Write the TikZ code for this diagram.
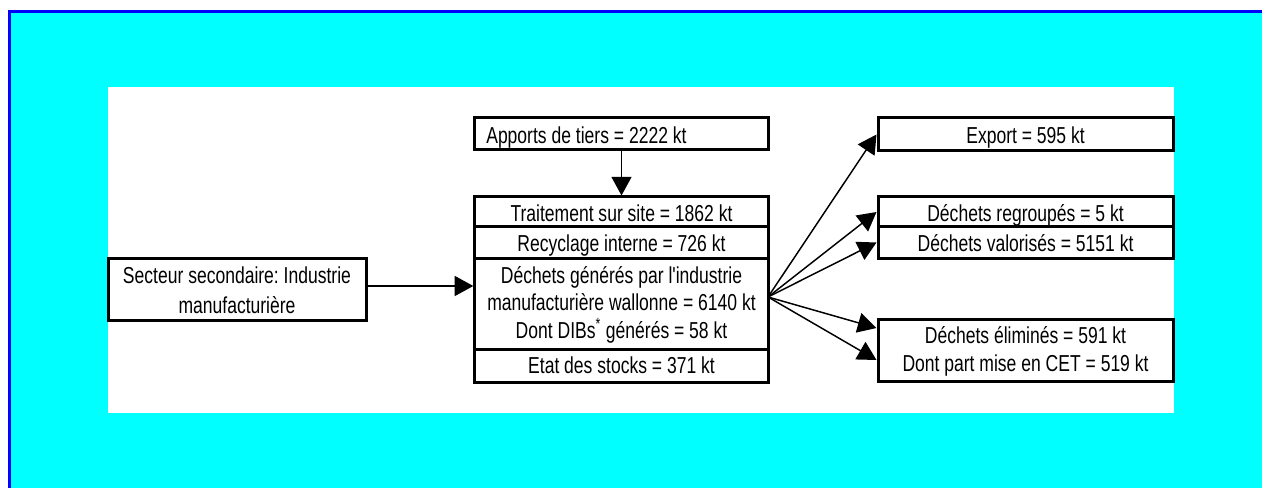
\documentclass[tikz,border=0pt]{standalone}
\usepackage{fontspec}
\setmainfont[FakeStretch=0.76, Ligatures=TeXOff]{Liberation Sans}
\usetikzlibrary{arrows.meta}
\definecolor{bgcyan}{RGB}{0,255,255}
\definecolor{bdblue}{RGB}{0,0,255}
\newcommand{\natsp}{\spaceskip=0pt\xspaceskip=0pt\relax}
\frenchspacing
\begin{document}
\begin{tikzpicture}[x=0.75pt,y=-0.75pt,
  frame/.style={draw=black, line width=2.25pt, inner sep=0pt,
    font=\fontsize{17.3}{21}\selectfont\frenchspacing},
  box/.style={frame, align=center, text height=14.2pt, text depth=0pt},
  mbox/.style={frame, text height=14pt},
  midcol/.style={box, minimum width=220pt},
  rightcol/.style={box, minimum width=221.25pt},
  arr/.style={line width=1.1pt, -{Triangle[length=14pt,width=15pt]}}]
\useasboundingbox (0,0) rectangle (1262,488);
\fill[white] (0,0) rectangle (1262,488);
\fill[bgcyan] (8,10) rectangle (1262,488);
\fill[bdblue] (8,10) rectangle (11,488);
\fill[bdblue] (8,10) rectangle (1262,13);
\fill[white] (108,87) rectangle (1174,413);

\node[mbox, minimum width=193.5pt, minimum height=46.5pt,
  font=\fontsize{17.3}{22.5}\selectfont\frenchspacing, text depth=23pt] (secteur) at (237,289)
  {\begin{tabular}[t]{@{}c@{}}Secteur secondaire: Industrie\\manufacturière\end{tabular}};
\node[box, minimum width=220pt, minimum height=24pt, text width=202.8pt, inner xsep=8.6pt, align=left] (apports) at (621.5,134)
  {\natsp Apports de tiers = 2222 kt};
\node[midcol, minimum height=22.5pt] (trait) at (621.5,212) {Traitement sur site = 1862 kt};
\node[midcol, minimum height=23.25pt] (recyc) at (621.5,242.5) {Recyclage interne = 726 kt};
\node[mbox, minimum width=220pt, minimum height=68.25pt,
  font=\fontsize{17.3}{20.6}\selectfont\frenchspacing, text depth=44.75pt] (dechets) at (621.5,303.5)
  {\begin{tabular}[t]{@{}c@{}}Déchets générés par l'industrie\\manufacturière wallonne = 6140 kt\\Dont DIBs\textsuperscript{*} générés = 58 kt\end{tabular}};
\node[midcol, minimum height=24.75pt, text height=12pt] (etat) at (621.5,365.5) {Etat des stocks = 371 kt};

\node[rightcol, minimum height=24.75pt] (export) at (1025.5,134.5) {Export = 595 kt};
\node[rightcol, minimum height=22.5pt] (regroup) at (1025.5,212) {Déchets regroupés = 5 kt};
\node[rightcol, minimum height=23.25pt] (valor) at (1025.5,242.5) {Déchets valorisés = 5151 kt};
\node[mbox, minimum width=221.25pt, minimum height=46.5pt, text depth=24.5pt] (elim) at (1025.5,350)
  {\begin{tabular}[t]{@{}c@{}}Déchets éliminés = 591 kt\\Dont part mise en CET = 519 kt\end{tabular}};

\coordinate (src) at (768,297);

\draw[arr] ([yshift=2.25pt]secteur.east) -- ([yshift=2.25pt]secteur.east -| dechets.west);
\draw[arr] (apports.south) -- (trait.north);
\draw[arr] (src) -- (export.west);
\draw[arr] (src) -- (regroup.west);
\draw[arr] (src) -- (valor.west);
\draw[arr] (src) -- ([yshift=16.5pt]elim.west);
\draw[arr] (src) -- ([yshift=-7.5pt]elim.west);
\end{tikzpicture}
\end{document}
